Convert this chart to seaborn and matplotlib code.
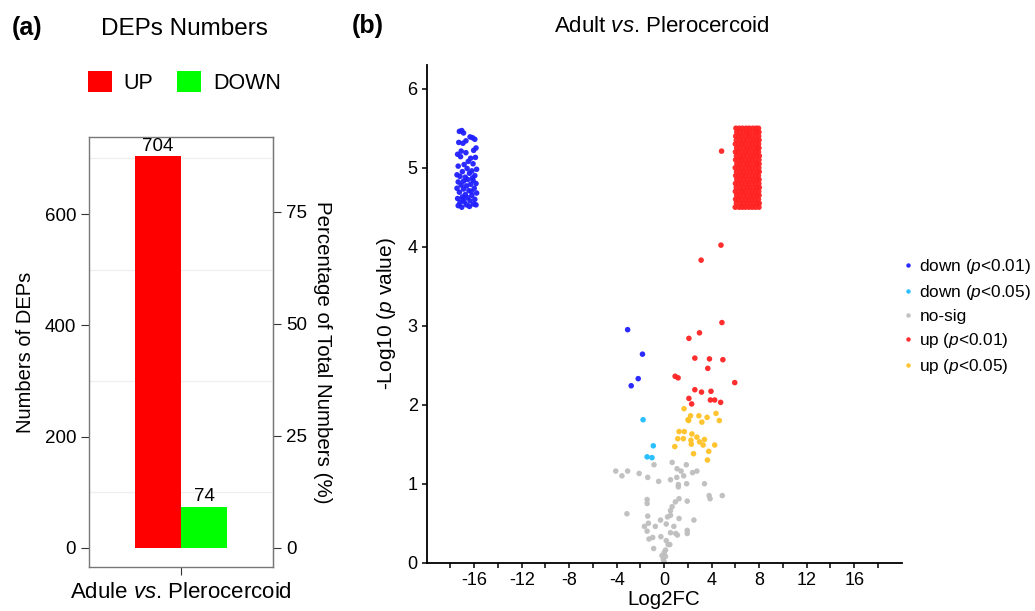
import pandas as pd
import numpy as np
import seaborn as sns
import matplotlib.pyplot as plt
from matplotlib.patches import Patch
from matplotlib.ticker import FixedLocator

sns.set_style("ticks")
plt.rcParams['font.family'] = ['Liberation Sans', 'DejaVu Sans']
plt.rcParams['mathtext.fontset'] = 'custom'
plt.rcParams['mathtext.rm'] = 'Liberation Sans'
plt.rcParams['mathtext.it'] = 'Liberation Sans:italic'
plt.rcParams['text.color'] = 'black'
plt.rcParams['axes.labelcolor'] = 'black'
plt.rcParams['xtick.labelcolor'] = 'black'
plt.rcParams['ytick.labelcolor'] = 'black'

# ---- panel (a) data ----
groups = ['UP', 'DOWN']
counts = [704, 74]
total_ref = 806  # right axis: percentage scale
bar_colors = {'UP': '#ff0000', 'DOWN': '#00ff00'}

# ---- panel (b) data ----
# down p<0.01 : cluster near -16.5 plus a few scattered
down1_x = [-17.25, -17.05, -16.90, -16.15, -15.95, -16.35, -17.30, -16.95, -16.70, -15.85,
           -16.05, -17.40, -17.15, -16.30, -15.90, -16.10, -17.35, -16.85, -16.60, -15.80,
           -17.00, -16.40, -16.20, -17.45, -17.20, -16.75, -15.95, -16.55, -16.90, -17.35,
           -16.10, -15.85, -17.10, -16.65, -16.30, -17.45, -16.90, -16.00, -16.45, -17.25,
           -15.80, -16.75, -16.20, -17.00, -17.40, -16.55, -15.95, -16.35, -16.85, -17.20,
           -16.05, -16.65, -17.35, -15.85, -16.40, -17.05, -16.15, -16.50, -17.10, -16.70,
           -16.25, -16.95, -3.08, -1.83, -2.19, -2.78]
down1_y = [5.46, 5.47, 5.44, 5.38, 5.36, 5.39, 5.32, 5.31, 5.34, 5.25,
           5.22, 5.17, 5.14, 5.12, 5.13, 5.05, 5.02, 5.04, 4.99, 4.98,
           4.95, 4.93, 4.96, 4.91, 4.89, 4.88, 4.90, 4.85, 4.83, 4.82,
           4.84, 4.80, 4.78, 4.77, 4.79, 4.74, 4.73, 4.74, 4.71, 4.69,
           4.68, 4.66, 4.65, 4.63, 4.61, 4.62, 4.60, 4.58, 4.57, 4.56,
           4.54, 4.53, 4.52, 4.53, 4.51, 4.50, 4.87, 5.08, 5.21, 5.19,
           4.70, 4.60, 2.95, 2.64, 2.33, 2.24]

down5_x = [-1.78, -0.92, -1.44, -1.03]
down5_y = [1.81, 1.48, 1.34, 1.33]

nosig_x = [-4.08, -3.56, -3.08, -2.11, -1.39, -0.86, -0.47, 0.67, 0.53, 1.08,
           1.42, 1.06, 1.64, 1.86, 2.39, 2.75, 1.19, 1.19, 1.89, 3.39,
           3.78, 3.86, 4.89, -1.44, -1.44, -3.14, 1.25, 0.94, 1.94, 0.67,
           0.53, -1.39, 0.53, 0.28, -0.31, 1.25, 2.50, -1.33, -1.67, -0.75,
           0.17, 0.81, -1.44, 0.97, 1.94, 1.94, 0.53, 1.11, -1.28, -0.97,
           -0.28, 0.17, -0.89, 0.33, 0.47, 0.11, 0.00, -0.19, 0.11, -0.08, 0.00]
nosig_y = [1.16, 1.10, 1.16, 1.13, 1.08, 1.24, 1.03, 1.27, 1.05, 1.19,
           1.16, 1.08, 1.10, 1.24, 1.14, 1.16, 0.99, 0.96, 1.00, 1.00,
           0.85, 0.81, 0.85, 0.80, 0.75, 0.62, 0.81, 0.77, 0.78, 0.71,
           0.66, 0.59, 0.60, 0.58, 0.54, 0.56, 0.54, 0.50, 0.46, 0.46,
           0.49, 0.46, 0.40, 0.37, 0.41, 0.37, 0.38, 0.35, 0.30, 0.32,
           0.33, 0.28, 0.18, 0.23, 0.23, 0.16, 0.13, 0.09, 0.08, 0.04, 0.01]

# up p<0.01 : dense block near 7 (rows) plus scattered points
up1_rows_y = [4.50, 4.55, 4.60, 4.65, 4.70, 4.75, 4.80, 4.85, 4.90, 4.95, 5.00,
              5.05, 5.10, 5.15, 5.20, 5.25, 5.30, 5.35, 5.40, 5.45, 5.50]
up1_rows_x = [
    [5.98, 6.30, 6.57, 6.83, 7.13, 7.41, 7.69, 7.98],
    [6.08, 6.41, 6.66, 6.97, 7.24, 7.52, 7.80, 8.00],
    [6.01, 6.27, 6.55, 6.86, 7.10, 7.38, 7.66, 7.94],
    [6.10, 6.37, 6.68, 6.95, 7.25, 7.49, 7.78, 7.99],
    [5.99, 6.31, 6.58, 6.82, 7.14, 7.42, 7.70, 7.96],
    [6.07, 6.40, 6.69, 6.98, 7.21, 7.53, 7.81, 8.01],
    [6.00, 6.26, 6.54, 6.85, 7.11, 7.39, 7.67, 7.97],
    [6.11, 6.39, 6.65, 6.96, 7.26, 7.51, 7.79, 7.99],
    [6.02, 6.29, 6.59, 6.84, 7.12, 7.43, 7.71, 7.94],
    [6.09, 6.42, 6.67, 6.93, 7.23, 7.50, 7.82, 8.00],
    [5.98, 6.28, 6.56, 6.87, 7.15, 7.40, 7.68, 7.97],
    [6.12, 6.38, 6.70, 6.97, 7.20, 7.54, 7.80, 7.99],
    [6.01, 6.32, 6.55, 6.83, 7.13, 7.37, 7.66, 7.98],
    [6.08, 6.41, 6.64, 6.95, 7.27, 7.49, 7.77, 8.01],
    [6.00, 6.27, 6.58, 6.86, 7.10, 7.44, 7.72, 7.94],
    [6.10, 6.36, 6.68, 6.99, 7.22, 7.52, 7.81, 7.98],
    [5.99, 6.30, 6.57, 6.82, 7.14, 7.41, 7.69, 7.95],
    [6.07, 6.40, 6.66, 6.94, 7.25, 7.50, 7.79, 7.99],
    [6.02, 6.29, 6.54, 6.88, 7.12, 7.38, 7.70, 7.96],
    [6.11, 6.37, 6.69, 6.96, 7.19, 7.53, 7.80, 7.98],
    [6.04, 6.33, 6.60, 6.90, 7.16, 7.45, 7.72, 7.94],
]
up1_extra_x = [4.83, 4.78, 3.11, 4.86, 2.97, 2.08, 2.58, 3.81, 4.94, 3.67,
               0.92, 1.17, 5.94, 2.58, 3.14, 3.94, 2.08, 3.89, 4.25, 2.31, 4.75]
up1_extra_y = [5.21, 4.02, 3.83, 3.04, 2.91, 2.84, 2.59, 2.58, 2.57, 2.46,
               2.36, 2.34, 2.28, 2.19, 2.16, 2.17, 2.08, 2.06, 2.06, 2.01, 2.03]

up5_x = [1.67, 4.36, 2.22, 2.92, 2.00, 3.61, 2.06, 3.17, 4.64, 1.25,
         1.69, 2.33, 1.14, 1.61, 2.75, 3.39, 2.25, 2.97, 2.28, 3.28,
         4.25, 0.89, 3.75, 2.47, 3.64]
up5_y = [1.95, 1.89, 1.86, 1.86, 1.81, 1.84, 1.80, 1.78, 1.80, 1.66,
         1.66, 1.63, 1.57, 1.57, 1.59, 1.56, 1.55, 1.53, 1.50, 1.49,
         1.49, 1.47, 1.41, 1.38, 1.30]

labels = ['down ($\\mathit{p}$<0.01)', 'down ($\\mathit{p}$<0.05)', 'no-sig',
          'up ($\\mathit{p}$<0.01)', 'up ($\\mathit{p}$<0.05)']
point_colors = ['#1f1fff', '#1ebcff', '#bebebe', '#ff2222', '#ffc125']

up1_x = [x for row in up1_rows_x for x in row] + up1_extra_x
up1_y = [y for y, row in zip(up1_rows_y, up1_rows_x) for _ in row] + up1_extra_y

volcano = pd.concat([
    pd.DataFrame({'log2fc': down1_x, 'logp': down1_y, 'group': labels[0]}),
    pd.DataFrame({'log2fc': down5_x, 'logp': down5_y, 'group': labels[1]}),
    pd.DataFrame({'log2fc': nosig_x, 'logp': nosig_y, 'group': labels[2]}),
    pd.DataFrame({'log2fc': up1_x, 'logp': up1_y, 'group': labels[3]}),
    pd.DataFrame({'log2fc': up5_x, 'logp': up5_y, 'group': labels[4]}),
], ignore_index=True)

fig = plt.figure(figsize=(10.35, 6.11), dpi=100)

# ================= (a) bar chart =================
ax1 = fig.add_axes([0.0863, 0.0715, 0.1772, 0.7048])
bars = pd.DataFrame({'comp': ['Adule $\\mathit{vs}$. Plerocercoid'] * 2,
                     'type': groups, 'n': counts})
sns.barplot(data=bars, x='comp', y='n', hue='type', hue_order=groups,
            palette=bar_colors, width=0.6, linewidth=0, saturation=1,
            legend=False, ax=ax1)
for c in ax1.containers:
    ax1.bar_label(c, padding=1, fontsize=13.5, color='black')
ax1.set_xlim(-0.6, 0.6)
ax1.set_ylim(-35.2, 739.2)
ax1.set_yticks([0, 200, 400, 600])
ax1.yaxis.set_minor_locator(FixedLocator([100, 300, 500, 700]))
ax1.grid(which='minor', axis='y', color='#efefef', linewidth=0.9)
ax1.tick_params(which='minor', length=0)
ax1.set_axisbelow(True)
ax1.set_xlabel('')
ax1.set_ylabel('Numbers of DEPs', fontsize=14.5, labelpad=7)
ax1.tick_params(axis='y', labelsize=13.5, length=5.5, color='#333333', pad=4)
ax1.tick_params(axis='x', labelsize=16, length=5.5, color='#333333', pad=5)
for s in ax1.spines.values():
    s.set_color('#777777')
    s.set_linewidth(1.0)

sec = ax1.secondary_yaxis('right', functions=(lambda v: v * 100 / total_ref,
                                              lambda p: p * total_ref / 100))
sec.set_yticks([0, 25, 50, 75])
sec.tick_params(labelsize=13.5, length=5.5, color='#333333', pad=4)
sec.spines['right'].set_color('#777777')
sec.set_ylabel('Percentage of Total Numbers (%)', fontsize=14.8, rotation=270,
               labelpad=18)

fig.text(0.0113, 0.954, '(a)', fontsize=18, fontweight='bold', va='center')
fig.text(0.178, 0.953, 'DEPs Numbers', fontsize=17.5, ha='center', va='center')
handles = [Patch(facecolor=bar_colors[g], edgecolor='none', label=g) for g in groups]
fig.legend(handles=handles, loc='center', bbox_to_anchor=(0.178, 0.865), ncol=2,
           frameon=False, fontsize=15.5, handlelength=1.12, handleheight=1.12,
           handletextpad=0.55, columnspacing=1.1)

# ================= (b) volcano =================
ax2 = fig.add_axes([0.4123, 0.0790, 0.4589, 0.8146])
sns.scatterplot(data=volcano, x='log2fc', y='logp', hue='group', hue_order=labels,
                palette=dict(zip(labels, point_colors)), s=16, linewidth=0,
                alpha=0.95, ax=ax2)
ax2.set_xlim(-20, 20)
ax2.set_ylim(0, 6.3)
ax2.set_xticks(np.arange(-18, 19, 2))
ax2.set_xticklabels(['' if t % 4 else str(t) for t in range(-18, 19, 2)])
ax2.set_yticks(range(0, 7))
ax2.tick_params(labelsize=13, length=3.5, width=1.1, color='black', pad=3)
sns.despine(ax=ax2)
for s in ['left', 'bottom']:
    ax2.spines[s].set_linewidth(1.3)
    ax2.spines[s].set_color('black')
ax2.set_xlabel('Log2FC', fontsize=14.8, labelpad=1)
ax2.set_ylabel('-Log10 ($\\mathit{p}$ value)', fontsize=15, labelpad=7)

fig.text(0.6393, 0.957, 'Adult $\\mathit{vs}$. Plerocercoid', fontsize=16,
         ha='center', va='center')
fig.text(0.340, 0.958, '(b)', fontsize=18, fontweight='bold', va='center')

sns.move_legend(ax2, 'center left', bbox_to_anchor=(0.8575, 0.4817),
                bbox_transform=fig.transFigure, frameon=False, title=None,
                fontsize=12.4, handlelength=0.6, handletextpad=0.35,
                labelspacing=0.4, markerscale=0.8)

fig.savefig('out.png', dpi=100)
